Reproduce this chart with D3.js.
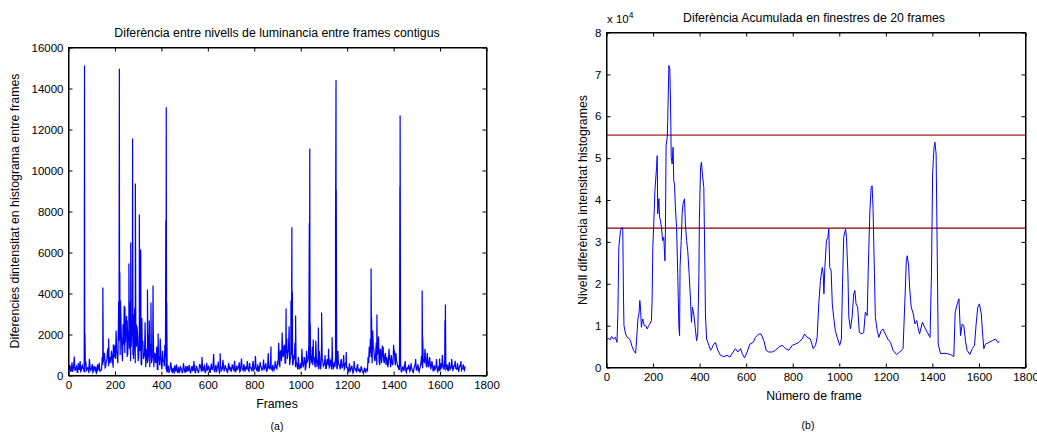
<!DOCTYPE html>
<html><head><meta charset="utf-8">
<script src="https://cdn.jsdelivr.net/npm/d3@7"></script>
<style>
html,body{margin:0;padding:0;background:#fff;}
svg text{font-family:"Liberation Sans",Arial,Helvetica,sans-serif;fill:#000;}
</style></head>
<body><svg id="c" width="1037" height="432"></svg>
<script>
// ---------- Chart (a): frame-to-frame luminance histogram difference ----------
const lumStep = 5;
// samples at frames 0,5,10,...
const lumNoise = [
 350,520,180,640,300,930,260,450,150,380,700,240,500,320,160,600,280,430,820,210,390,150,470,260,120,550,330,180,260,
 900,640,1100,420,760,1350,580,900,1200,650,1300,
 1500,2200,900,2600,1800,3100,1200,2500,3400,1600,2900,1000,2300,3600,1400,2700,800,3300,1900,2400,700,2100,1300,500,1700,900,2600,1100,600,2000,400,1500,800,2200,1000,600,1400,300,900,1800,500,1200,700,1500,
 320,150,480,220,640,180,380,90,260,540,130,420,200,350,110,600,240,460,170,310,520,140,390,230,700,160,450,280,120,560,
 340,900,210,480,150,620,270,400,130,580,300,1050,190,520,360,680,140,430,250,760,200,510,330,150,620,410,180,540,290,720,
 160,480,350,640,220,830,270,560,190,450,700,240,610,380,200,720,310,950,260,540,180,660,420,290,780,350,600,230,1100,400,
 680,300,520,250,700,450,
 700,1600,400,1200,2100,900,1500,600,1800,1100,2400,800,1300,500,1000,1600,700,400,900,300,
 600,1300,400,900,250,1200,700,1500,500,1000,1400,800,600,1700,400,900,1200,300,1600,700,500,1000,350,800,1300,450,700,1100,300,650,900,400,1200,550,300,800,450,1000,350,600,
 400,150,600,250,480,120,700,330,200,560,280,140,450,220,100,380,160,300,900,1400,
 1800,900,2200,1300,700,1600,1000,1900,500,1200,800,1400,600,1100,900,400,1300,700,1000,500,1500,800,1100,600,
 500,300,650,180,420,250,700,150,380,520,200,600,300,150,450,800,260,550,180,420,950,350,700,1300,500,1100,400,900,300,700,
 200,500,350,800,150,450,250,600,1000,380,700,300,550,200,650,400,800,260,500,720,350,600,180,480,700,300,550,250,400
];
// samples at frames 2.5,7.5,12.5,...
const lumNoiseMid = [
 220,410,300,180,520,260,390,150,610,280,200,450,330,170,540,240,360,120,480,300,560,200,340,430,180,290,620,250,310,
 520,1000,380,700,1150,450,820,600,1000,380,880,
 800,1200,600,1700,1000,2000,700,1500,1100,2300,900,1800,1300,700,2100,1000,1600,600,1400,2000,900,1200,600,1500,800,1100,400,1300,700,900,1500,600,1000,400,1100,700,300,800,500,1000,300,700,450,900,
 200,380,130,300,450,160,270,500,190,340,240,150,410,280,190,380,130,320,460,210,300,180,470,250,360,140,420,210,330,480,
 190,300,420,170,350,260,480,200,370,310,500,230,380,160,440,290,210,390,330,470,280,350,180,430,260,370,300,460,240,390,
 310,260,420,180,500,330,240,410,360,280,430,200,380,290,470,260,350,420,230,380,320,450,260,390,300,480,210,420,340,290,
 460,250,380,330,420,280,
 500,900,1200,700,1000,1400,600,1100,800,1300,500,900,1000,600,800,400,600,300,500,450,
 350,700,500,800,400,650,900,350,750,600,500,900,400,800,650,300,700,500,850,450,600,350,700,500,400,750,300,600,500,400,650,300,550,450,700,350,500,300,600,400,
 250,350,200,400,300,180,350,250,420,200,300,230,350,180,260,200,320,250,600,900,
 1100,600,1400,800,1000,500,1200,700,1300,600,900,700,1000,500,800,600,900,400,700,600,1000,500,700,400,
 300,450,200,380,260,500,220,350,300,420,260,380,200,330,500,280,420,250,350,600,500,800,600,900,400,700,500,600,450,500,
 350,280,450,300,380,220,400,330,500,280,420,350,300,460,250,380,500,300,420,350,280,400,330,460,250,380,300,420
];
const spikeFrames = [68,69,71,148,173,193,216,219,221,224,243,253,260,268,276,279,288,292,305,311,316,340,348,355,364,386,416,419,421,423,653,872,
 937,958,962,964,978,1037,1039,1041,1054,1076,1090,1135,1150,1152,1153,1196,1303,1305,1328,1351,1404,1426,1427,1428,1523,1525,1598,1621,1623];
const spikeValues = [3300,15120,2050,4290,1800,1510,3600,14960,5020,3660,3330,2680,5460,6490,11560,3000,9360,2500,7850,6150,2800,4200,2680,3560,4390,2050,1220,7560,13090,3560,1090,1410,
 3270,3660,7230,4100,2930,7430,11070,2540,1760,2340,3070,1870,7510,14420,9070,1140,5220,2850,2980,1460,1220,3020,9220,12680,4150,1900,830,2680,3460];
const lumXTicks = [0,200,400,600,800,1000,1200,1400,1600,1800];
const lumYTicks = [0,2000,4000,6000,8000,10000,12000,14000,16000];

// ---------- Chart (b): accumulated difference over 20-frame windows (x 10^4) ----------
const accFrames = [0,8,15,22,30,38,45,49,53,60,67,70,73,75,82,89,96,103,110,117,125,129,135,140,143,146,150,153,156,162,168,175,181,186,193,196,199,203,208,215,218,220,225,228,232,236,241,246,251,253,256,261,263,268,272,275,278,282,286,289,292,296,301,306,311,314,316,321,325,329,335,339,344,349,355,361,365,369,375,381,387,392,397,399,404,408,412,418,422,425,430,440,447,452,458,468,478,490,504,518,530,544,554,564,576,583,593,604,616,630,640,654,664,676,686,697,712,726,740,755,769,783,798,812,826,840,851,862,876,888,898,905,912,919,927,931,934,938,945,951,955,959,965,970,976,983,991,1002,1009,1014,1019,1027,1031,1037,1041,1048,1055,1062,1067,1072,1079,1086,1098,1105,1112,1120,1124,1131,1137,1141,1145,1151,1155,1163,1170,1180,1188,1198,1208,1220,1231,1246,1260,1274,1283,1288,1292,1298,1302,1309,1318,1325,1333,1338,1345,1357,1367,1378,1390,1396,1401,1407,1411,1416,1421,1425,1435,1450,1464,1478,1492,1498,1507,1514,1521,1528,1535,1542,1549,1561,1571,1581,1588,1595,1602,1610,1617,1621,1628,1643,1657,1671,1681,1688];
const accValues = [0.65,0.7,0.66,0.74,0.68,0.72,0.6,1.32,2.87,3.27,3.35,3.27,1.68,1.0,0.8,0.72,0.7,0.64,0.5,0.4,0.34,0.64,1.16,1.3,1.6,1.44,0.96,1.1,1.16,1.0,1.0,0.92,1.0,1.04,1.12,1.6,2.87,3.43,4.22,4.78,5.06,3.67,4.03,3.59,3.51,3.35,3.03,3.11,2.55,3.19,5.3,5.5,5.9,7.21,7.13,6.37,5.02,4.86,5.26,4.46,4.38,3.83,3.35,2.24,0.96,0.76,2.39,3.03,3.67,3.91,4.03,3.43,3.03,2.79,2.24,1.6,1.08,1.44,1.28,0.96,0.64,0.8,2.24,3.51,4.78,4.9,4.62,4.3,2.71,1.28,0.68,0.53,0.41,0.45,0.53,0.6,0.41,0.29,0.26,0.29,0.25,0.37,0.45,0.37,0.45,0.33,0.23,0.37,0.56,0.6,0.72,0.8,0.8,0.64,0.41,0.37,0.37,0.41,0.49,0.53,0.45,0.41,0.53,0.56,0.6,0.68,0.8,0.72,0.68,0.45,0.53,0.72,1.52,2.08,2.39,2.24,1.76,2.39,3.03,3.11,3.31,2.39,2.31,1.52,1.2,0.88,0.72,0.53,0.68,2.0,3.11,3.31,3.11,2.24,1.2,0.92,1.2,1.76,1.84,1.52,1.44,0.84,0.8,0.84,1.32,1.24,2.24,3.67,4.3,4.34,3.83,2.24,1.2,0.88,0.72,0.88,0.92,0.8,0.68,0.6,0.41,0.31,0.37,0.45,1.76,2.55,2.67,2.43,1.92,1.44,1.28,1.04,1.12,0.96,0.8,1.08,0.96,0.84,0.72,2.24,4.62,5.26,5.38,5.1,2.63,0.56,0.33,0.34,0.33,0.31,0.26,1.32,1.52,1.64,0.76,1.04,1.0,0.64,0.41,0.31,0.45,0.53,1.04,1.44,1.52,1.28,0.72,0.45,0.56,0.6,0.64,0.68,0.6,0.62];
const thresholds = [5.55, 3.33];
const thresholdColors = ["#c0605c", "#800000"];
const accXTicks = [0,200,400,600,800,1000,1200,1400,1600,1800];
const accYTicks = [0,1,2,3,4,5,6,7,8];

const svg = d3.select("#c");
const FS = "11.5px";   // tick labels
const LS = "12.3px";   // titles / axis labels

function drawFrame(g, x, y, xTicks, yTicks, yFmt) {
  const [x0, x1] = x.range(), [y1, y0] = y.range();
  g.append("g").attr("transform", `translate(0,${y1})`)
    .call(d3.axisBottom(x).tickValues(xTicks).tickSizeInner(-4).tickSizeOuter(0).tickPadding(5).tickFormat(d3.format("d")));
  g.append("g").attr("transform", `translate(0,${y0})`)
    .call(d3.axisTop(x).tickValues(xTicks).tickSizeInner(-4).tickSizeOuter(0).tickFormat(""));
  g.append("g").attr("transform", `translate(${x0},0)`)
    .call(d3.axisLeft(y).tickValues(yTicks).tickSizeInner(-4).tickSizeOuter(0).tickPadding(5).tickFormat(yFmt));
  g.append("g").attr("transform", `translate(${x1},0)`)
    .call(d3.axisRight(y).tickValues(yTicks).tickSizeInner(-4).tickSizeOuter(0).tickFormat(""));
  g.selectAll(".domain").attr("stroke", "#000");
  g.selectAll(".tick line").attr("stroke", "#000");
  g.selectAll(".tick text").style("font-size", FS).attr("fill", "#000");
  g.append("rect").attr("x", x0).attr("y", y0).attr("width", x1 - x0).attr("height", y1 - y0)
    .attr("fill", "none").attr("stroke", "#000").attr("stroke-width", 1);
}

// ---- (a)
{
  const x = d3.scaleLinear().domain([0, 1800]).range([68.5, 486.5]);
  const y = d3.scaleLinear().domain([0, 16000]).range([375.5, 47.5]);
  const pts = lumNoise.map((v, i) => [i * lumStep, v])
    .concat(lumNoiseMid.map((v, i) => [i * lumStep + lumStep / 2, v]))
    .concat(spikeFrames.map((f, i) => [f, spikeValues[i]]))
    .sort((a, b) => a[0] - b[0]);
  const g = svg.append("g");
  g.append("path").datum(pts)
    .attr("d", d3.line().x(d => x(d[0])).y(d => y(d[1])))
    .attr("fill", "none").attr("stroke", "#0000ff").attr("stroke-width", 1.2);
  drawFrame(g, x, y, lumXTicks, lumYTicks, d3.format("d"));
  g.append("text").attr("x", 277).attr("y", 37).attr("text-anchor", "middle").style("font-size", LS)
    .text("Diferència entre nivells de luminancia entre frames contigus");
  g.append("text").attr("x", 277).attr("y", 408).attr("text-anchor", "middle").style("font-size", LS).text("Frames");
  g.append("text").attr("x", 277).attr("y", 430).attr("text-anchor", "middle").style("font-size", "10.5px").text("(a)");
  g.append("text").attr("transform", "translate(19,211) rotate(-90)").attr("text-anchor", "middle").style("font-size", LS)
    .text("Diferencies dintensitat en histograma entre frames");
}

// ---- (b)
{
  const x = d3.scaleLinear().domain([0, 1800]).range([606.5, 1025.5]);
  const y = d3.scaleLinear().domain([0, 8]).range([367.5, 32.5]);
  const g = svg.append("g");
  thresholds.forEach((t, i) => {
    g.append("line").attr("x1", x(0)).attr("x2", x(1800)).attr("y1", y(t)).attr("y2", y(t))
      .attr("stroke", thresholdColors[i]).attr("stroke-width", i === 0 ? 1.6 : 1.2);
  });
  g.append("path").datum(accFrames.map((f, i) => [f, accValues[i]]))
    .attr("d", d3.line().x(d => x(d[0])).y(d => y(d[1])))
    .attr("fill", "none").attr("stroke", "#0000ff").attr("stroke-width", 1);
  drawFrame(g, x, y, accXTicks, accYTicks, d3.format("d"));
  g.append("text").attr("x", 814).attr("y", 22).attr("text-anchor", "middle").style("font-size", LS)
    .text("Diferència Acumulada en finestres de 20 frames");
  const ex = g.append("text").attr("x", 607).attr("y", 23).style("font-size", FS);
  ex.append("tspan").text("x 10");
  ex.append("tspan").attr("dy", -5).style("font-size", "8.5px").text("4");
  g.append("text").attr("x", 814).attr("y", 400).attr("text-anchor", "middle").style("font-size", LS).text("Número de frame");
  g.append("text").attr("x", 808).attr("y", 429).attr("text-anchor", "middle").style("font-size", "10.5px").text("(b)");
  g.append("text").attr("transform", "translate(587,200) rotate(-90)").attr("text-anchor", "middle").style("font-size", LS)
    .text("Nivell diferència intensitat histogrames");
}
</script></body></html>
